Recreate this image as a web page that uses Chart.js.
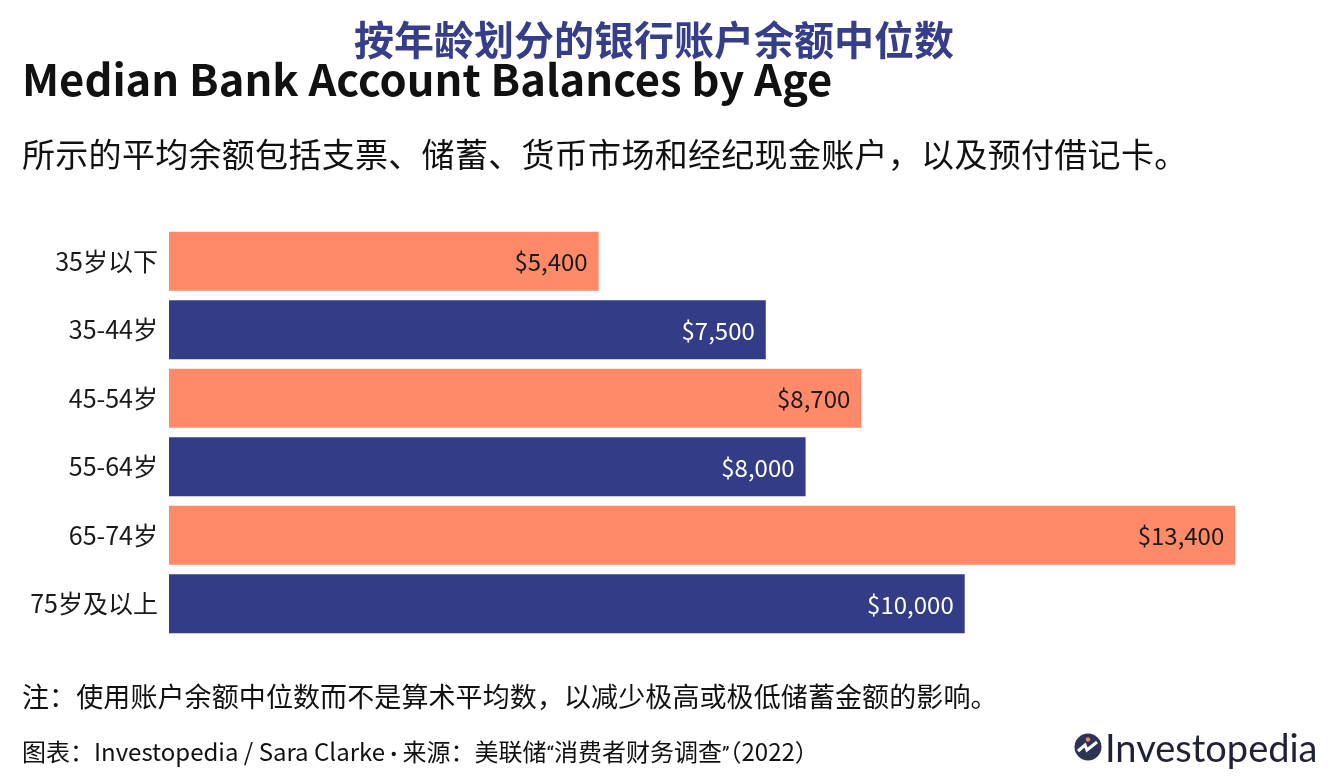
<!DOCTYPE html>
<html>
<head>
<meta charset="utf-8">
<script src="https://cdn.jsdelivr.net/npm/chart.js@4.4.1/dist/chart.umd.min.js"></script>
<style>
  body { margin: 0; background: #fff; font-family: "Noto Sans CJK SC", sans-serif; }
  #wrap { position: relative; width: 1342px; height: 784px; overflow: hidden; }
  #chart { position: absolute; left: 0; top: 0; }
  .txt { position: absolute; line-height: 1; white-space: nowrap; color: #111; }
  #cnTitle { top: 18px; left: 0; width: 1308px; text-align: center; font-size: 40px; font-weight: 700; color: #363e8a; }
  #title { top: 56px; left: 22px; font-size: 43.5px; font-weight: 700; letter-spacing: 0px; }
  #sub { top: 137px; left: 22px; font-size: 33px; letter-spacing: 0.3px; }
  #note { top: 682px; left: 22px; font-size: 27px; letter-spacing: 0.1px; }
  #src { top: 739px; left: 22px; font-size: 24px; }
  #src .n { font-family: Roboto, sans-serif; font-size: 21px; }
  #logo { position: absolute; left: 1074px; top: 731px; height: 32px; display: flex; align-items: center; }
  #logo span { font-family: Lato, sans-serif; font-size: 38px; color: #1f2233; margin-left: 3px; line-height: 1; }
</style>
</head>
<body>
<div id="wrap">
  <canvas id="chart" width="1342" height="784"></canvas>
  <div class="txt" id="cnTitle">按年龄划分的银行账户余额中位数</div>
  <div class="txt" id="title">Median Bank Account Balances by Age</div>
  <div class="txt" id="sub">所示的平均余额包括支票、储蓄、货币市场和经纪现金账户，以及预付借记卡。</div>
  <div class="txt" id="note">注：使用账户余额中位数而不是算术平均数，以减少极高或极低储蓄金额的影响。</div>
  <div class="txt" id="src">图表：Investopedia / Sara Clarke<span class="n"> • </span>来源：美联储<span class="n">“</span>消费者财务调查<span class="n">”</span>（2022）</div>
  <div id="logo">
    <svg width="28" height="28" viewBox="0 0 28 28">
      <circle cx="14" cy="14" r="13.5" fill="#2c3354"/>
      <circle cx="14" cy="6.5" r="2.2" fill="#e8876c"/>
      <path d="M4 18 L11 12 L13 17 L23 9" stroke="#fff" stroke-width="3" fill="none" stroke-linejoin="miter"/>
    </svg>
    <span>Investopedia</span>
  </div>
</div>
<script>
var ageGroups = ["35岁以下", "35-44岁", "45-54岁", "55-64岁", "65-74岁", "75岁及以上"];
var balances = [5400, 7500, 8700, 8000, 13400, 10000];
var barColors = ["#ff8a6a", "#333c87", "#ff8a6a", "#333c87", "#ff8a6a", "#333c87"];
var labelColors = ["#1a1a1a", "#ffffff", "#1a1a1a", "#ffffff", "#1a1a1a", "#ffffff"];

Chart.defaults.font.family = "'Noto Sans CJK SC', sans-serif";

var valueLabels = {
    id: "valueLabels",
    afterDatasetsDraw: function(chart) {
        var ctx = chart.ctx;
        var meta = chart.getDatasetMeta(0);
        ctx.save();
        ctx.font = "24px 'Noto Sans CJK SC', sans-serif";
        ctx.textAlign = "right";
        ctx.textBaseline = "middle";
        meta.data.forEach(function(bar, i) {
            ctx.fillStyle = labelColors[i];
            ctx.fillText("$" + balances[i].toLocaleString("en-US"), bar.x - 11, bar.y + 1);
        });
        ctx.restore();
    }
};

var ctx = document.getElementById("chart").getContext("2d");
var myChart = new Chart(ctx, {
    type: "bar",
    data: {
        labels: ageGroups,
        datasets: [{
            data: balances,
            backgroundColor: barColors,
            borderWidth: 0,
            barPercentage: 0.93,
            categoryPercentage: 0.93
        }]
    },
    options: {
        indexAxis: "y",
        responsive: false,
        animation: false,
        layout: { padding: { left: 0, right: 59, top: 227, bottom: 146 } },
        plugins: {
            legend: { display: false },
            tooltip: { enabled: false }
        },
        scales: {
            x: {
                display: false,
                min: 0,
                max: 14000
            },
            y: {
                afterFit: function(scale) { scale.width = 169; },
                grid: { display: false },
                border: { display: false },
                ticks: {
                    color: "#1a1a1a",
                    padding: 3,
                    font: { size: 25 }
                }
            }
        }
    },
    plugins: [valueLabels]
});
</script>
</body>
</html>
